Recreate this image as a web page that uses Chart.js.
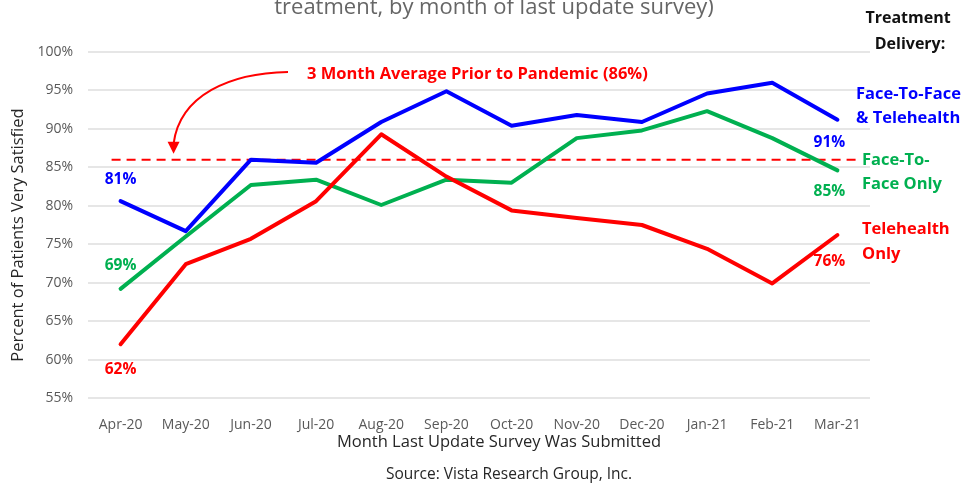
<!DOCTYPE html>
<html>
<head>
<meta charset="utf-8">
<script src="https://cdn.jsdelivr.net/npm/chart.js@4.4.0/dist/chart.umd.min.js"></script>
<style>
  html, body { margin: 0; padding: 0; background: #fff; }
  #wrap { width: 964px; height: 485px; position: relative; }
</style>
</head>
<body>
<div id="wrap"><canvas id="lineChart"></canvas></div>
<script>
const months = ["Apr-20", "May-20", "Jun-20", "Jul-20", "Aug-20", "Sep-20",
  "Oct-20", "Nov-20", "Dec-20", "Jan-21", "Feb-21", "Mar-21"];
const telehealthOnly = [62.0, 72.4, 75.7, 80.6, 89.3, 83.8, 79.4, 78.4, 77.5, 74.4, 69.9, 76.2];
const faceOnly = [69.2, 76.0, 82.7, 83.4, 80.1, 83.4, 83.0, 88.8, 89.8, 92.3, 88.8, 84.6];
const faceAndTele = [80.6, 76.7, 86.0, 85.6, 90.9, 94.9, 90.4, 91.8, 90.9, 94.6, 96.0, 91.2];
const priorAverage = 86;
const yTicks = [55, 60, 65, 70, 75, 80, 85, 90, 95, 100];

const RED = "#ff0000";
const GREEN = "#00b050";
const BLUE = "#0000ff";
const FONT = "'Open Sans', sans-serif";

// end-point labels: [dataset index, point index, dx, dy]
const pointLabels = [
  [2, 0, 0, -22], [1, 0, 0, -23], [0, 0, 0, 25],
  [2, 11, -8, 23], [1, 11, -8, 21], [0, 11, -8, 27],
];

const textPlugin = {
  id: "texts",
  beforeDatasetsDraw(chart) {
    const ctx = chart.ctx;
    const x = chart.scales.x, y = chart.scales.y;
    const yy = y.getPixelForValue(priorAverage);
    ctx.save();
    ctx.strokeStyle = RED;
    ctx.lineWidth = 2;
    ctx.setLineDash([9, 6]);
    ctx.beginPath();
    ctx.moveTo(x.getPixelForValue(0) - 9, yy);
    ctx.lineTo(x.getPixelForValue(11) + 22, yy);
    ctx.stroke();
    ctx.restore();
  },
  afterDraw(chart) {
    const ctx = chart.ctx;
    const x = chart.scales.x, y = chart.scales.y;
    ctx.save();

    // title (cut at top)
    ctx.fillStyle = "#666";
    ctx.font = "22px " + FONT;
    ctx.textAlign = "center";
    ctx.textBaseline = "alphabetic";
    ctx.fillText("treatment, by month of last update survey)", 494, 14);
    ctx.textBaseline = "middle";

    // axis titles
    ctx.fillStyle = "#262626";
    ctx.font = "16.5px " + FONT;
    ctx.fillText("Month Last Update Survey Was Submitted", 499, 442);
    ctx.font = "15.5px " + FONT;
    ctx.fillText("Source: Vista Research Group, Inc.", 509, 475);
    ctx.save();
    ctx.translate(18, 235);
    ctx.rotate(-Math.PI / 2);
    ctx.font = "16.5px " + FONT;
    ctx.fillText("Percent of Patients Very Satisfied", 0, 0);
    ctx.restore();

    // legend block
    ctx.font = "bold 16px " + FONT;
    ctx.fillStyle = "#111";
    ctx.fillText("Treatment", 908, 18);
    ctx.fillText("Delivery:", 910, 44);
    ctx.textAlign = "left";
    ctx.font = "bold 16.5px " + FONT;
    ctx.fillStyle = BLUE;
    ctx.fillText("Face-To-Face", 856, 94);
    ctx.fillText("& Telehealth", 856, 118);
    ctx.fillStyle = GREEN;
    ctx.fillText("Face-To-", 862, 160);
    ctx.fillText("Face Only", 862, 184);
    ctx.fillStyle = RED;
    ctx.fillText("Telehealth", 862, 229);
    ctx.fillText("Only", 862, 254);

    // annotation
    ctx.font = "bold 16.5px " + FONT;
    ctx.fillStyle = RED;
    ctx.fillText("3 Month Average Prior to Pandemic (" + priorAverage + "%)", 307, 74);
    const tipX = x.getPixelForValue(0) + 53;
    const tipY = y.getPixelForValue(priorAverage) - 6;
    ctx.strokeStyle = RED;
    ctx.lineWidth = 2;
    ctx.beginPath();
    ctx.moveTo(288, 72);
    ctx.bezierCurveTo(230, 73, 180, 95, tipX, tipY - 10);
    ctx.stroke();
    ctx.beginPath();
    ctx.moveTo(tipX - 6, tipY - 12);
    ctx.lineTo(tipX + 6, tipY - 12);
    ctx.lineTo(tipX, tipY);
    ctx.closePath();
    ctx.fill();

    // end-point value labels
    ctx.textAlign = "center";
    ctx.font = "bold 15.5px " + FONT;
    pointLabels.forEach(([d, i, dx, dy]) => {
      const ds = chart.data.datasets[d];
      ctx.fillStyle = ds.borderColor;
      const v = ds.data[i];
      ctx.fillText(Math.round(v) + "%", x.getPixelForValue(i) + dx, y.getPixelForValue(v) + dy);
    });
    ctx.restore();
  },
};

const config = {
  type: "line",
  data: {
    labels: months,
    datasets: [
      { label: "Telehealth Only", data: telehealthOnly, borderColor: RED },
      { label: "Face-To-Face Only", data: faceOnly, borderColor: GREEN },
      { label: "Face-To-Face & Telehealth", data: faceAndTele, borderColor: BLUE },
    ].map((d) => Object.assign(d, {
      fill: false, tension: 0, pointRadius: 0, borderWidth: 4,
      borderJoinStyle: "round", borderCapStyle: "round",
    })),
  },
  plugins: [textPlugin],
  options: {
    responsive: true,
    maintainAspectRatio: false,
    animation: false,
    events: [],
    layout: { padding: { left: 0, right: 94, top: 52, bottom: 0 } },
    plugins: { legend: { display: false }, tooltip: { enabled: false } },
    scales: {
      x: {
        offset: true,
        grid: { display: false },
        border: { display: false },
        ticks: { color: "#595959", font: { family: FONT, size: 14 }, padding: 11, maxRotation: 0 },
        afterFit: (s) => { s.height = 87; },
      },
      y: {
        min: yTicks[0],
        max: yTicks[yTicks.length - 1],
        afterBuildTicks: (s) => { s.ticks = yTicks.map((v) => ({ value: v })); },
        grid: { color: "#e6e6e6", lineWidth: 2, drawTicks: false },
        border: { display: false },
        ticks: { color: "#595959", font: { family: FONT, size: 14 }, padding: 15, callback: (v) => v + "%" },
        afterFit: (s) => { s.width = 88; },
      },
    },
  },
};

const myChart = new Chart(document.getElementById("lineChart"), config);
</script>
</body>
</html>
